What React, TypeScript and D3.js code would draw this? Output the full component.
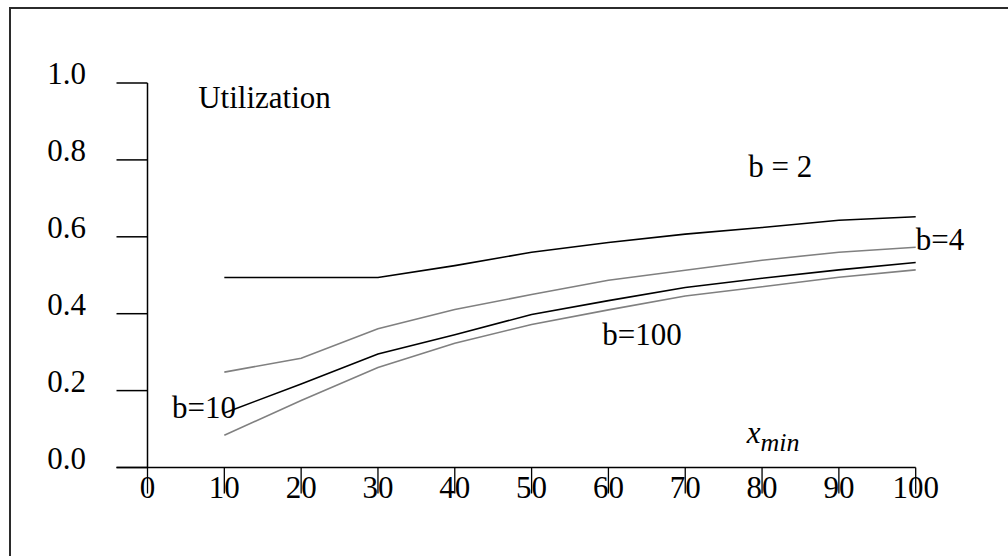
import React from "react";
import * as d3 from "d3";

// x_min values along the horizontal axis
const xMin = [10, 20, 30, 40, 50, 60, 70, 80, 90, 100];

// utilization per block size b
const utilB2 = [0.494, 0.494, 0.494, 0.525, 0.56, 0.585, 0.607, 0.624, 0.643, 0.652];
const utilB4 = [0.248, 0.284, 0.361, 0.411, 0.45, 0.487, 0.513, 0.539, 0.56, 0.573];
const utilB10 = [0.142, 0.217, 0.295, 0.345, 0.398, 0.434, 0.468, 0.492, 0.514, 0.533];
const utilB100 = [0.084, 0.174, 0.26, 0.323, 0.372, 0.41, 0.446, 0.47, 0.495, 0.514];

const xTicks = [0, 10, 20, 30, 40, 50, 60, 70, 80, 90, 100];
const yTicks = [0, 0.2, 0.4, 0.6, 0.8, 1.0];

const series = [
  { name: "b=2", values: utilB2, color: "#000000" },
  { name: "b=4", values: utilB4, color: "#808080" },
  { name: "b=10", values: utilB10, color: "#000000" },
  { name: "b=100", values: utilB100, color: "#808080" },
];

// annotations in data coordinates [x, y]
const labels = [
  { text: "b = 2", at: [78.2, 0.756] },
  { text: "b=4", at: [100.0, 0.566] },
  { text: "b=100", at: [59.2, 0.319] },
  { text: "b=10", at: [3.2, 0.129] },
  { text: "Utilization", at: [6.6, 0.935] },
];

const FONT = "'Liberation Serif', 'Times New Roman', serif";

export default function App() {
  const x = d3.scaleLinear().domain([0, 100]).range([147.5, 915.7]);
  const y = d3.scaleLinear().domain([0, 1]).range([467.5, 83]);

  const line = d3
    .line<number>()
    .x((_, i) => x(xMin[i]))
    .y((d) => y(d));

  const axisLeftEnd = 116.5;

  return (
    <svg
      width={1008}
      height={556}
      style={{ position: "absolute", left: 0, top: 0, background: "#fff" }}
      fontFamily={FONT}
    >
      <rect x={10} y={8} width={1010} height={560} fill="none" stroke="#2b2b2b" strokeWidth={2} />

      {/* y axis */}
      <line x1={x(0)} x2={x(0)} y1={y(1)} y2={y(0)} stroke="#000" strokeWidth={1.5} />
      {yTicks.map((t) => (
        <g key={t}>
          <line x1={axisLeftEnd} x2={x(0)} y1={y(t)} y2={y(t)} stroke="#000" strokeWidth={1.5} />
          <text x={86} y={y(t) + 1} textAnchor="end" fontSize={31} fill="#000">
            {d3.format(".1f")(t)}
          </text>
        </g>
      ))}

      {/* x axis */}
      <line x1={axisLeftEnd} x2={x(100)} y1={y(0)} y2={y(0)} stroke="#000" strokeWidth={1.5} />
      {xTicks.map((t) => (
        <g key={t}>
          <line x1={x(t)} x2={x(t)} y1={y(0)} y2={y(0) + 26} stroke="#000" strokeWidth={1.3} />
          <text x={x(t)} y={498} textAnchor="middle" fontSize={31} fill="#000">
            {t}
          </text>
        </g>
      ))}

      {/* curves */}
      {series.map((s) => (
        <path key={s.name} d={line(s.values) || ""} fill="none" stroke={s.color} strokeWidth={1.6} />
      ))}

      {labels.map((l) => (
        <text key={l.text} x={x(l.at[0])} y={y(l.at[1])} fontSize={31} fill="#000">
          {l.text}
        </text>
      ))}

      <text x={x(78.0)} y={y(0.0637)} fontSize={31} fontStyle="italic" fill="#000">
        x
        <tspan dy={8} fontSize={26}>
          min
        </tspan>
      </text>
    </svg>
  );
}
